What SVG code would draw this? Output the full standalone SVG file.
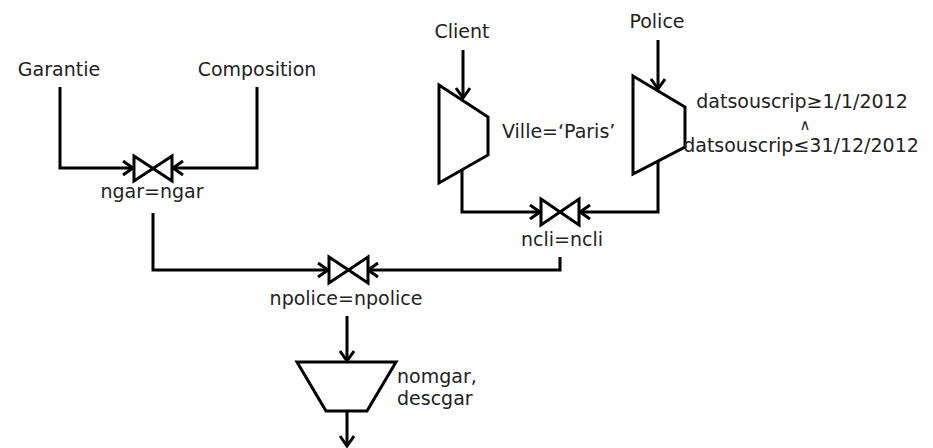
<svg xmlns="http://www.w3.org/2000/svg" width="933" height="448" viewBox="0 0 933 448">
<defs>
<style>
text{font-family:"DejaVu Sans","Liberation Sans",sans-serif;font-size:19px;fill:#222}
.m{text-anchor:middle}
.c{fill:none;stroke:#000;stroke-width:3;stroke-linejoin:miter}
.s{fill:#fff;stroke:#000;stroke-width:3;stroke-linejoin:miter}
</style>
<marker id="ah" markerWidth="14" markerHeight="18" refX="11" refY="8" orient="auto" markerUnits="userSpaceOnUse">
<path d="M1,1 L11,8 L1,15" fill="none" stroke="#000" stroke-width="3"/>
</marker>
</defs>
<rect width="933" height="448" fill="#fff"/>
<g id="connectors">
<path class="c" d="M60,87 V168 H133" marker-end="url(#ah)"/>
<path class="c" d="M257,87 V168 H173" marker-end="url(#ah)"/>
<path class="c" d="M153,213 V270 H328" marker-end="url(#ah)"/>
<path class="c" d="M560,257 V270 H368" marker-end="url(#ah)"/>
<path class="c" d="M463,50 V98" marker-end="url(#ah)"/>
<path class="c" d="M658,40 V89" marker-end="url(#ah)"/>
<path class="c" d="M462,170 V212 H540" marker-end="url(#ah)"/>
<path class="c" d="M658,161 V212 H580" marker-end="url(#ah)"/>
<path class="c" d="M347,316 V361" marker-end="url(#ah)"/>
<path class="c" d="M347,411 V446" marker-end="url(#ah)"/>
</g>
<g id="garantie"><text class="m" x="59" y="76">Garantie</text></g>
<g id="composition"><text class="m" x="257" y="76">Composition</text></g>
<g id="client"><text class="m" x="462" y="38">Client</text></g>
<g id="police"><text class="m" x="657" y="28">Police</text></g>
<g id="join-ngar">
<path class="s" d="M134,156 L172,181 L172,156 L134,181 Z"/>
<text class="m" x="152" y="198">ngar=ngar</text>
</g>
<g id="select-client">
<polygon class="s" points="439,85 488,117 488,155 439,183"/>
<text x="502" y="138">Ville=‘Paris’</text>
</g>
<g id="select-police">
<polygon class="s" points="633,76 685,107 685,147 633,174"/>
<text class="m" x="802" y="108">datsouscrip≥1/1/2012</text>
<text class="m" x="805" y="130" style="font-size:15px">∧</text>
<text class="m" x="801" y="152">datsouscrip≤31/12/2012</text>
</g>
<g id="join-ncli">
<path class="s" d="M541,199 L579,225 L579,199 L541,225 Z"/>
<text class="m" x="562" y="246">ncli=ncli</text>
</g>
<g id="join-npolice">
<path class="s" d="M329,257 L368,283 L368,257 L329,283 Z"/>
<text class="m" x="346" y="305">npolice=npolice</text>
</g>
<g id="projection">
<polygon class="s" points="297,362 396,362 367,411 326,411"/>
<text x="397" y="383">nomgar,</text>
<text x="397" y="405">descgar</text>
</g>
</svg>
